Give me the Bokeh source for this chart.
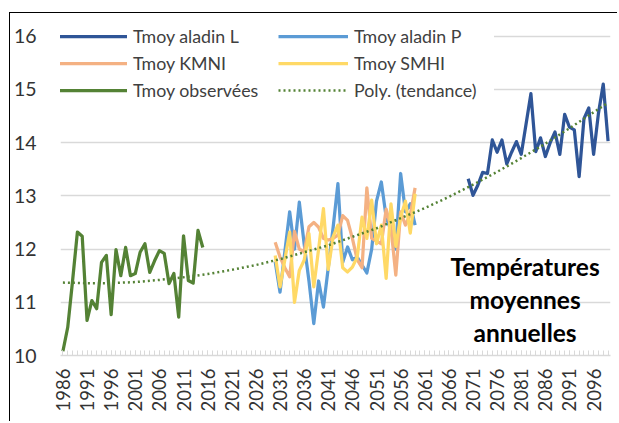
import numpy as np
from bokeh.plotting import figure
from bokeh.models import FixedTicker, Legend, LegendItem, Label
from bokeh.embed import file_html
from bokeh.resources import INLINE

# ---------------- data ----------------
obs_years = list(range(1986, 2016))
obs_vals = [10.08, 10.53, 11.40, 12.32, 12.24, 10.66, 11.03, 10.88, 11.75, 11.88,
            10.77, 11.99, 11.50, 12.03, 11.50, 11.54, 11.94, 12.10, 11.56, 11.78,
            11.97, 11.92, 11.35, 11.54, 10.72, 12.25, 11.41, 11.36, 12.35, 12.03]

near_years = list(range(2030, 2060))
aladin_p = [11.76, 11.19, 11.95, 12.70, 12.00, 12.88, 12.10, 11.40, 10.60, 11.40,
            10.91, 11.65, 12.40, 13.23, 11.75, 12.04, 11.80, 11.85, 11.70, 11.55,
            12.00, 12.90, 13.26, 12.60, 12.35, 12.00, 13.42, 12.70, 12.85, 12.45]
kmni = [12.13, 11.85, 11.65, 11.48, 12.33, 12.00, 11.95, 12.42, 12.50, 12.41,
        12.20, 12.17, 12.20, 12.26, 12.63, 12.54, 12.20, 11.80, 11.65, 13.15,
        12.20, 12.15, 12.10, 12.75, 12.40, 11.51, 12.70, 12.45, 12.65, 13.15]
smhi = [11.88, 11.29, 11.80, 12.32, 11.00, 11.60, 11.79, 12.29, 11.29, 12.00,
        12.76, 11.62, 12.23, 12.45, 11.65, 11.57, 11.66, 11.85, 12.60, 12.20,
        12.92, 12.10, 12.45, 11.45, 12.85, 12.05, 12.60, 12.90, 12.30, 13.04]

far_years = list(range(2070, 2100))
aladin_l = [13.32, 13.01, 13.20, 13.44, 13.42, 14.05, 13.82, 14.05, 13.60, 13.82,
            14.02, 13.78, 14.35, 14.92, 13.83, 14.09, 13.74, 14.00, 14.20, 13.78,
            14.53, 14.29, 14.24, 13.36, 14.45, 14.65, 13.78, 14.55, 15.10, 14.03]

trend_years = [1986, 1991, 1996, 2001, 2006, 2011, 2016, 2021, 2026, 2031, 2036, 2041,
               2046, 2051, 2056, 2061, 2066, 2071, 2076, 2081, 2086, 2091, 2096, 2099]
trend_vals = [11.37, 11.36, 11.36, 11.38, 11.42, 11.47, 11.53, 11.61, 11.70, 11.81, 11.94, 12.07,
              12.23, 12.39, 12.58, 12.77, 12.98, 13.21, 13.45, 13.71, 13.98, 14.27, 14.57, 14.75]

x_tick_labels = list(range(1986, 2100, 5))
all_years = list(range(1986, 2100))
y_ticks = [10, 11, 12, 13, 14, 15, 16]

names = ["Tmoy aladin L", "Tmoy aladin P", "Tmoy KMNI", "Tmoy SMHI",
         "Tmoy observées", "Poly. (tendance)"]
title_text = "Températures\nmoyennes\nannuelles"

# ---------------- figure ----------------
p = figure(width=608, height=409, x_range=(1985.5, 2099.5), y_range=(10, 16.295),
           output_backend="svg", toolbar_location=None,
           min_border_left=50, min_border_right=8, min_border_top=7, min_border_bottom=67)
p.styles = {"margin-left": "9px", "margin-top": "12px",
            "border-left": "1px solid black", "border-top": "1px solid black"}
p.outline_line_color = None
p.background_fill_color = "white"
p.border_fill_color = "white"

p.xgrid.visible = False
p.ygrid.grid_line_color = "#d9d9d9"
p.ygrid.grid_line_width = 1.5

p.xaxis.ticker = FixedTicker(ticks=x_tick_labels, minor_ticks=all_years)
p.xaxis.major_label_orientation = np.pi / 2
p.xaxis.axis_line_color = "#d9d9d9"
p.xaxis.axis_line_width = 1.5
p.xaxis.major_tick_line_color = "#d9d9d9"
p.xaxis.minor_tick_line_color = "#d9d9d9"
p.xaxis.major_tick_in = 5
p.xaxis.major_tick_out = 0
p.xaxis.minor_tick_in = 5
p.xaxis.minor_tick_out = 0
p.xaxis.major_label_standoff = 13
p.xaxis.major_label_text_font = "Lato"
p.xaxis.major_label_text_font_size = "18.5px"
p.xaxis.major_label_text_color = "#333333"

p.yaxis.ticker = FixedTicker(ticks=y_ticks)
p.yaxis.axis_line_color = None
p.yaxis.major_tick_line_color = None
p.yaxis.minor_tick_line_color = None
p.yaxis.major_tick_in = 0
p.yaxis.major_tick_out = 0
p.yaxis.major_label_standoff = 24
p.yaxis.major_label_text_font = "Lato"
p.yaxis.major_label_text_font_size = "19.5px"
p.yaxis.major_label_text_color = "#333333"

lw = 3.25
r_l = p.line(far_years, aladin_l, line_color="#2F5597", line_width=lw, line_join="round")
r_p = p.line(near_years, aladin_p, line_color="#5B9BD5", line_width=lw, line_join="round")
r_k = p.line(near_years, kmni, line_color="#F4B183", line_width=lw, line_join="round")
r_s = p.line(near_years, smhi, line_color="#FFD966", line_width=lw, line_join="round")
r_o = p.line(obs_years, obs_vals, line_color="#548235", line_width=lw, line_join="round")
r_t = p.line(trend_years, trend_vals, line_color="#548235", line_width=2.5, line_dash="2 3")

legend = Legend(items=[
    LegendItem(label=names[0], renderers=[r_l]),
    LegendItem(label=names[2], renderers=[r_k]),
    LegendItem(label=names[4], renderers=[r_o]),
    LegendItem(label=names[1], renderers=[r_p]),
    LegendItem(label=names[3], renderers=[r_s]),
    LegendItem(label=names[5], renderers=[r_t]),
], ncols=2, orientation="vertical", location=(-3, 254))
legend.label_text_font = "Lato"
legend.label_text_font_size = "17.8px"
legend.label_text_color = "#404040"
legend.glyph_width = 70
legend.glyph_height = 20
legend.label_height = 20
legend.label_width = 140
legend.label_standoff = 6
legend.spacing = 5
legend.padding = 6
legend.margin = 0
legend.border_line_color = None
legend.background_fill_color = "white"
legend.background_fill_alpha = 1.0
p.add_layout(legend, "center")

p.add_layout(Label(x=2081.8, y=11.06, text=title_text, text_align="center",
                   text_baseline="middle", text_font="Lato", text_font_style="bold",
                   text_font_size="24.5px", text_color="black", text_line_height=1.14))

open("out.html", "w").write(file_html(p, INLINE))
